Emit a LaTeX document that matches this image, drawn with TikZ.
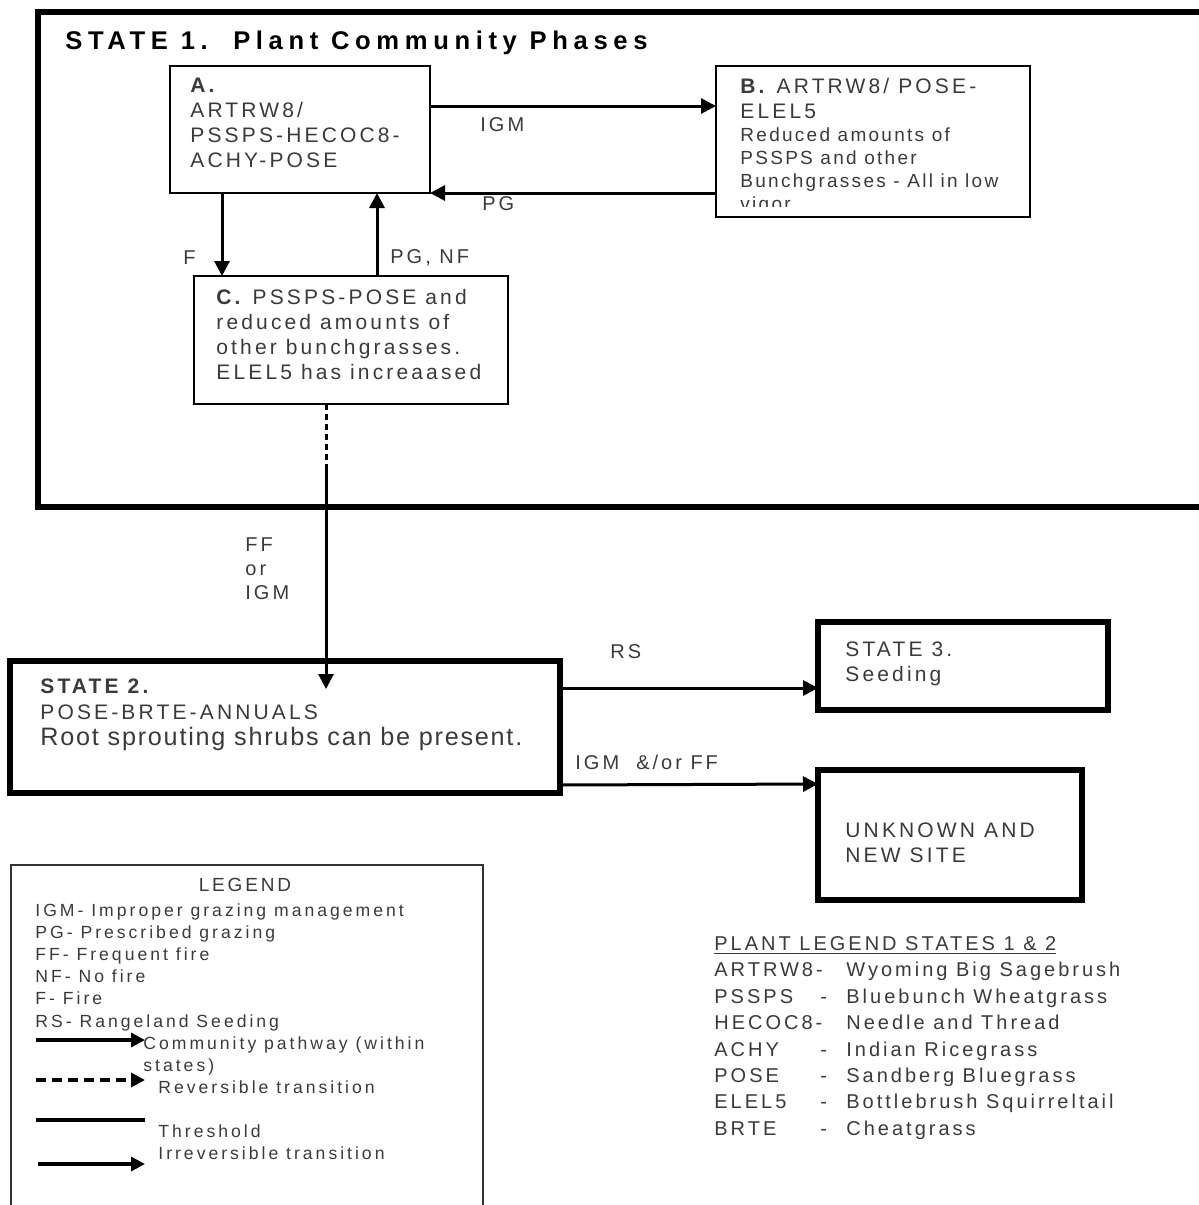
\documentclass[tikz,border=0pt]{standalone}
\usepackage{fontspec}
\setmainfont{Liberation Sans}
\newfontfamily\widefont{Liberation Sans}[LetterSpace=15]
\newfontfamily\titlefont{Liberation Sans}[LetterSpace=22]
\usepackage{tikz}
\usetikzlibrary{arrows.meta,calc}
\definecolor{inkgray}{HTML}{3A3A3A}
\newcommand{\plantcode}[1]{\makebox[53pt][l]{#1}}

\begin{document}
\begin{tikzpicture}[
    x=0.5pt, y=-0.5pt,
    box/.style={draw, inner sep=0pt, outer sep=0pt, anchor=north west, line width=0.8pt},
    statebox/.style={box, line width=2.6pt},
    framebox/.style={box, line width=3pt},
    legbox/.style={box, line width=1pt, draw=black!80},
    txt/.style={inner sep=0pt, anchor=north west, align=left, text=inkgray, font={\widefont\fontsize{10.5}{12.5}\selectfont}},
    smalltxt/.style={txt, font={\widefont\addfontfeature{LetterSpace=12}\fontsize{9.5}{11.5}\selectfont}},
    legtxt/.style={txt, font={\widefont\addfontfeature{LetterSpace=17}\fontsize{8.8}{11.1}\selectfont}},
    lbl/.style={inner sep=0pt, anchor=west, text=inkgray, font={\widefont\fontsize{10}{12}\selectfont}},
    leglbl/.style={lbl, font={\widefont\addfontfeature{LetterSpace=17}\fontsize{8.8}{11}\selectfont}},
    arr/.style={-{Triangle[length=7.5pt,width=7.5pt]}, line width=1.5pt},
    legarr/.style={-{Triangle[length=7pt,width=7pt]}, line width=1.6pt}
]
\useasboundingbox (0,0) rectangle (1199,1205);

% State 1
\node[framebox, minimum width=588.5pt, minimum height=247.5pt] (s1) at (38,12) {};
\node[inner sep=0pt, anchor=north west, font={\titlefont\bfseries\fontsize{12.8}{15}\selectfont}] (s1title) at (65,31) {STATE 1.\ \ Plant Community Phases};

\node[box, minimum width=130pt, minimum height=63.5pt] (A) at (170,66) {};
\node[txt] (Atxt) at (190,78) {\textbf{A.}\\ARTRW8/\\PSSPS-HECOC8-\\ACHY-POSE};

\node[box, minimum width=157pt, minimum height=75.5pt] (B) at (716,66) {};
\node[txt] (Btxt) at (740,78) {\textbf{B.} ARTRW8/ POSE-\\ELEL5};
\begin{scope}
  \clip (B.north west) rectangle ($(B.south east)+(0,-11)$);
  \node[smalltxt] (Bbody) at (740,127) {Reduced amounts of\\PSSPS and other\\Bunchgrasses - All in low\\vigor};
\end{scope}

\node[box, minimum width=157pt, minimum height=64pt] (C) at (194,276) {};
\node[txt] (Ctxt) at (216,289) {\textbf{C.} PSSPS-POSE and\\reduced amounts of\\other bunchgrasses.\\ELEL5 has increaased};

\draw[arr] ($(A.north east)+(0,40)$) -- ($(B.north west)+(0,40)$);
\draw[arr] ($(B.north west)+(0,127)$) -- (A.south east);
\draw[arr] ($(A.south west)+(52,0)$) -- ($(C.north west)+(28,0)$);
\draw[arr] ($(C.north west)+(183,0)$) -- ($(A.south west)+(207,0)$);
\node[lbl] (igm1) at (480,125) {IGM};
\node[lbl] (pg1) at (482,204) {PG};
\node[lbl] (f1) at (183,258) {F};
\node[lbl] (pgnf) at (390,258) {PG, NF};

% States 2, 3 and unknown
\node[statebox, minimum width=275pt, minimum height=66pt] (s2) at (10,661) {};
\node[txt, font={\widefont\fontsize{10.5}{13}\selectfont}] (s2txt) at (40,678) {\textbf{STATE 2.}\\POSE-BRTE-ANNUALS\\{\addfontfeature{LetterSpace=7}\fontsize{12.6}{13}\selectfont Root sprouting shrubs can be present.}};

\node[statebox, minimum width=145pt, minimum height=44pt] (s3) at (818,622) {};
\node[txt] (s3txt) at (845,641) {STATE 3.\\Seeding};

\node[statebox, minimum width=132pt, minimum height=65pt] (new) at (818,770) {};
\node[txt] (newtxt) at (845,822) {UNKNOWN AND\\NEW SITE};

\coordinate (brk) at (326,468);
\coordinate (s2tip) at ($(s2.north west)+(316,28)$);
\draw[line width=1.5pt, dash pattern=on 3pt off 2pt] (brk |- C.south) -- (brk);
\draw[arr] (brk) -- (s2tip);
\node[txt, font={\widefont\fontsize{10}{12}\selectfont}] (ffigm) at (245,537) {FF\\or\\IGM};

\draw[arr] ($(s2.north east)+(0,27)$) -- ($(s3.north west)+(0,66)$);
\draw[arr] ($(s2.north east)+(0,124)$) -- ($(new.north west)+(0,14)$);
\node[lbl] (rs) at (610,652) {RS};
\node[lbl] (igmff) at (575,762) {IGM \ \&/or FF};

% Legend
\node[legbox, minimum width=236pt, minimum height=175pt] (leg) at (11,865) {};
\node[lbl, anchor=center, font={\widefont\fontsize{9.5}{12}\selectfont}] (legtitle) at (245,885) {LEGEND};
\node[legtxt] (abbr) at (35,903) {IGM- Improper grazing management\\PG- Prescribed grazing\\FF- Frequent fire\\NF- No fire\\F- Fire\\RS- Rangeland Seeding};
\coordinate (pa) at (36,1040); \coordinate (pb) at (145,1040);
\coordinate (ra) at (36,1080); \coordinate (rb) at (145,1080);
\coordinate (ta) at (36,1120); \coordinate (tb) at (145,1120);
\coordinate (ia) at (38,1164); \coordinate (ib) at (145,1164);
\draw[legarr] (pa) -- (pb);
\draw[legarr, line width=1.9pt, dash pattern=on 5pt off 3pt] (ra) -- (rb);
\draw[line width=2.2pt] (ta) -- (tb);
\draw[legarr] (ia) -- (ib);
\node[legtxt] (pathtxt) at (143,1036) {Community pathway (within\\states)};
\node[leglbl] (revtxt) at (158,1087) {Reversible transition};
\node[leglbl] (thrtxt) at (158,1131) {Threshold};
\node[leglbl] (irrtxt) at (158,1153) {Irreversible transition};

% Plant legend
\node[txt, font={\widefont\fontsize{10}{12}\selectfont}] (plttitle) at (714,936) {\underline{PLANT LEGEND STATES 1 \& 2}};
\node[txt, font={\widefont\fontsize{10}{13.2}\selectfont}] (plants) at (714,958) {%
\begin{tabular}{@{}l@{}l@{}l@{}}
\plantcode{ARTRW8-} & \makebox[13pt][l]{} & Wyoming Big Sagebrush\\
\plantcode{PSSPS} & \makebox[13pt][l]{-} & Bluebunch Wheatgrass\\
\plantcode{HECOC8-} & \makebox[13pt][l]{} & Needle and Thread\\
\plantcode{ACHY} & \makebox[13pt][l]{-} & Indian Ricegrass\\
\plantcode{POSE} & \makebox[13pt][l]{-} & Sandberg Bluegrass\\
\plantcode{ELEL5} & \makebox[13pt][l]{-} & Bottlebrush Squirreltail\\
\plantcode{BRTE} & \makebox[13pt][l]{-} & Cheatgrass
\end{tabular}};
\end{tikzpicture}
\end{document}
